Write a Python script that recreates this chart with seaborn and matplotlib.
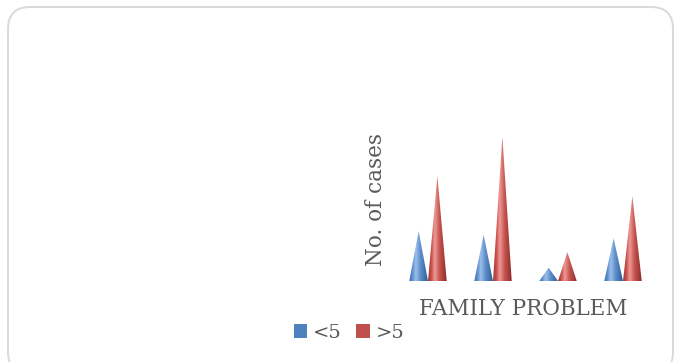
import matplotlib
matplotlib.use("Agg")
import matplotlib.pyplot as plt
import matplotlib.colors as mcolors
from matplotlib.patches import FancyBboxPatch, Polygon, Patch
import numpy as np
import pandas as pd
import seaborn as sns

# Cases per group, split by duration
groups = ["G1", "G2", "G3", "G4"]
series = ["<5", ">5"]
lt5 = [7.1, 6.6, 1.9, 6.1]
gt5 = [15.0, 20.6, 4.1, 12.1]
category_label = "FAMILY PROBLEM"
y_title = "No. of cases"

base_colors = {"<5": "#4F81BD", ">5": "#C0504D"}
shades = {
    "<5": ["#3a6aa8", "#5b8fd0", "#9cc0ea", "#5f8fcc", "#2c5c97"],
    ">5": ["#a03a36", "#c9504c", "#ee9a97", "#c85652", "#8a2a27"],
}

sns.set_theme(style="white")
plt.rcParams["font.family"] = ["DejaVu Serif"]

W, H = 674, 362
fig = plt.figure(figsize=(W / 100, H / 100), dpi=100)

# rounded chart-area frame
fx0, fy0, fx1, fy1 = 8, 7, 673, 374
frame = FancyBboxPatch((fx0 / W, 1 - fy1 / H), (fx1 - fx0) / W, (fy1 - fy0) / H,
                       boxstyle="round,pad=0,rounding_size=%f" % (22 / W),
                       transform=fig.transFigure, facecolor="white",
                       edgecolor="#d9d9d9", linewidth=1.4,
                       mutation_aspect=W / H, zorder=-5)
fig.patches.append(frame)

df = pd.DataFrame({
    "group": groups * 2,
    "series": [series[0]] * len(groups) + [series[1]] * len(groups),
    "cases": lt5 + gt5,
})

# axes geometry in pixels
ax_left, ax_right = 380, 660
base_y, top_y = 281, 120
unit_px = 65.0
first_center = 428.0
ax = fig.add_axes([ax_left / W, 1 - base_y / H, (ax_right - ax_left) / W, (base_y - top_y) / H])
ax.set_facecolor("none")
ax.set_zorder(2)

sns.barplot(data=df, x="group", y="cases", hue="series", hue_order=series,
            order=groups, width=0.576, palette=base_colors, ax=ax,
            legend=False, errorbar=None)

ymax = (base_y - top_y) / 7.0
bars = [p for p in ax.patches]
hue_of = {}
for i, p in enumerate(bars):
    hue_of[id(p)] = series[i // len(groups)]

gradient = np.linspace(0, 1, 256).reshape(1, -1)
for p in bars:
    x0, w, h = p.get_x(), p.get_width(), p.get_height()
    p.set_visible(False)
    cmap = mcolors.LinearSegmentedColormap.from_list(
        "cone", list(zip([0, 0.18, 0.36, 0.6, 1.0], shades[hue_of[id(p)]])))
    tri = Polygon([(x0, 0), (x0 + w / 2, h), (x0 + w, 0)], closed=True,
                  facecolor="none", edgecolor="none")
    ax.add_patch(tri)
    im = ax.imshow(gradient, extent=(x0, x0 + w, 0, h), cmap=cmap,
                   aspect="auto", origin="lower", zorder=3, interpolation="bilinear")
    im.set_clip_path(tri)

ax.set_xlim(-(first_center - ax_left) / unit_px, (ax_right - first_center) / unit_px)
ax.set_ylim(0, ymax)
ax.set_xticks([])
ax.set_yticks([])
ax.set_xlabel("")
ax.set_ylabel("")
for s in ax.spines.values():
    s.set_visible(False)

text_color = "#595959"
fig.text(523 / W, 1 - 309 / H, category_label, ha="center", va="center",
         fontsize=15.5, color=text_color)
fig.text(376 / W, 1 - 200 / H, y_title, rotation=90, ha="center", va="center",
         fontsize=15.5, color=text_color)

handles = [Patch(facecolor=base_colors[s], edgecolor="none", label=s) for s in series]
fig.legend(handles=handles, loc="center", bbox_to_anchor=(349 / W, 1 - 333 / H),
           ncol=2, frameon=False, fontsize=14, handlelength=0.7, handleheight=0.7,
           handletextpad=0.3, columnspacing=0.75, labelcolor=text_color,
           borderpad=0.2)

fig.savefig("out.png", dpi=100)
